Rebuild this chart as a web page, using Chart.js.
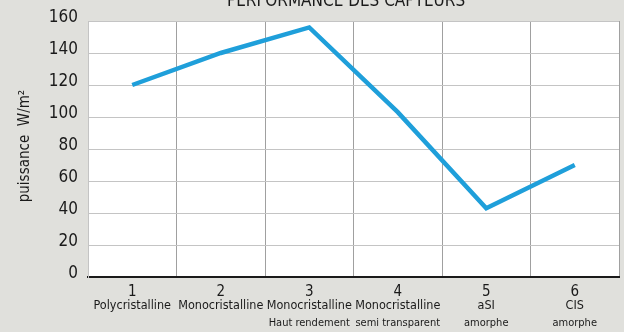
<!DOCTYPE html>
<html>
<head>
<meta charset="utf-8">
<script src="https://cdn.jsdelivr.net/npm/chart.js@4/dist/chart.umd.min.js"></script>
<style>
  html, body { margin: 0; padding: 0; background: #e0e0dc; }
  #wrap { width: 624px; height: 332px; position: relative; }
</style>
</head>
<body>
<div id="wrap"><canvas id="capteurs" width="624" height="332"></canvas></div>
<script>
// Sensor performance data
const numbers = ["1", "2", "3", "4", "5", "6"];
const names = ["Polycristalline", "Monocristalline", "Monocristalline", "Monocristalline", "aSI", "CIS"];
const subNames = ["", "", "Haut rendement", "semi transparent", "amorphe", "amorphe"];
const puissance = [120, 140, 156, 103, 43, 70];
const yTicks = [0, 20, 40, 60, 80, 100, 120, 140, 160];

const FONT = "'DejaVu Sans Condensed', 'DejaVu Sans', sans-serif";

// White plot background plus all hand-placed text
const decor = {
  id: "decor",
  beforeDraw(chart) {
    const { ctx, chartArea: a } = chart;
    ctx.save();
    ctx.fillStyle = "#ffffff";
    ctx.fillRect(a.left, a.top, a.right - a.left, a.bottom - a.top);
    ctx.restore();
  },
  afterDraw(chart) {
    const x = chart.scales.x;
    const y = chart.scales.y;
    const ctx = chart.ctx;
    ctx.save();
    ctx.fillStyle = "#1a1a1a";

    // title (partly cut off at the top)
    ctx.font = "17px " + FONT;
    ctx.textAlign = "center";
    ctx.textBaseline = "alphabetic";
    ctx.fillText("PERFORMANCE DES CAPTEURS", 346, 6);

    // y tick labels
    ctx.font = "17px " + FONT;
    ctx.textAlign = "right";
    yTicks.forEach(v => {
      ctx.fillText(String(v), 78, y.getPixelForValue(v) + 1);
    });

    // x labels: number, name, sub name
    ctx.textAlign = "center";
    numbers.forEach((n, i) => {
      const px = x.getPixelForValue(i);
      ctx.font = "15px " + FONT;
      ctx.fillText(n, px, 296);
      ctx.font = "12.5px " + FONT;
      ctx.fillText(names[i], px, 309);
      if (subNames[i]) {
        ctx.font = "11px " + FONT;
        ctx.fillText(subNames[i], px, 326);
      }
    });

    // y axis title
    ctx.translate(29, 146);
    ctx.rotate(-Math.PI / 2);
    ctx.font = "15px " + FONT;
    ctx.textAlign = "center";
    ctx.fillText("puissance  W/m²", 0, 0);
    ctx.restore();
  }
};

new Chart(document.getElementById("capteurs").getContext("2d"), {
  type: "line",
  data: {
    labels: numbers,
    datasets: [
      {
        data: puissance,
        borderColor: "#1f9fda",
        borderWidth: 4.5,
        pointRadius: 0,
        tension: 0,
        fill: false,
      },
    ],
  },
  options: {
    responsive: false,
    animation: false,
    layout: { padding: { left: 0, top: 21, right: 5, bottom: 0 } },
    plugins: {
      legend: { display: false },
      tooltip: { enabled: false },
    },
    scales: {
      x: {
        offset: true,
        grid: { offset: true, color: "#a0a0a0", lineWidth: 1, drawTicks: false },
        border: { color: "#1a1a1a", width: 2 },
        ticks: { display: false },
        afterFit(scale) { scale.height = 55; },
      },
      y: {
        min: 0,
        max: 160,
        grid: { color: "#c4c4c4", lineWidth: 1, drawTicks: false },
        border: { color: "#c4c4c4", width: 1 },
        ticks: { display: false, stepSize: 20 },
        afterFit(scale) { scale.width = 88; },
      },
    },
  },
  plugins: [decor],
});
</script>
</body>
</html>
